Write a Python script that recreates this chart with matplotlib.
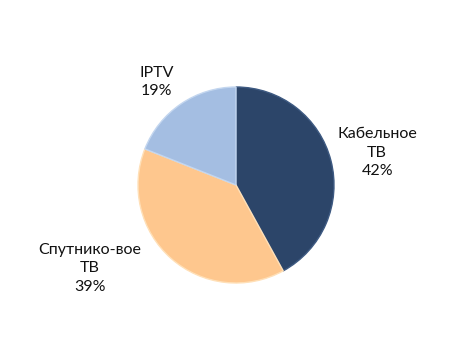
import matplotlib
matplotlib.use("Agg")
import matplotlib.pyplot as plt

categories = ["Кабельное\nТВ", "Спутнико-вое\nТВ", "IPTV"]
values = [42, 39, 19]
colors = ["#2C4569", "#FEC78E", "#A4BEE2"]
edge_colors = ["#3E5A82", "#FFE0B8", "#C3D6EF"]

W, H = 460, 346
cx, cy, R = 236, 185, 98

fig = plt.figure(figsize=(W / 100, H / 100), dpi=100)
ax = fig.add_axes([0, 0, 1, 1])

wedges, _ = ax.pie(values, colors=colors, startangle=90, counterclock=False,
                   radius=1.0, center=(0, 0), frame=True,
                   wedgeprops=dict(linewidth=1.0))
for w, ec in zip(wedges, edge_colors):
    w.set_edgecolor(ec)
ax.set_xlim(-cx / R, (W - cx) / R)
ax.set_ylim(-(H - cy) / R, cy / R)
ax.set_aspect("equal")
ax.axis("off")

label_pos = [(1.44, 0.33), (-1.49, -0.85), (-0.81, 1.05)]
for cat, v, (lx, ly) in zip(categories, values, label_pos):
    ax.text(lx, ly, f"{cat}\n{v}%", ha="center", va="center",
            fontsize=11.5, family=["Lato", "DejaVu Sans"], color="#111111",
            linespacing=1.4)

fig.savefig("out.png", dpi=100)
